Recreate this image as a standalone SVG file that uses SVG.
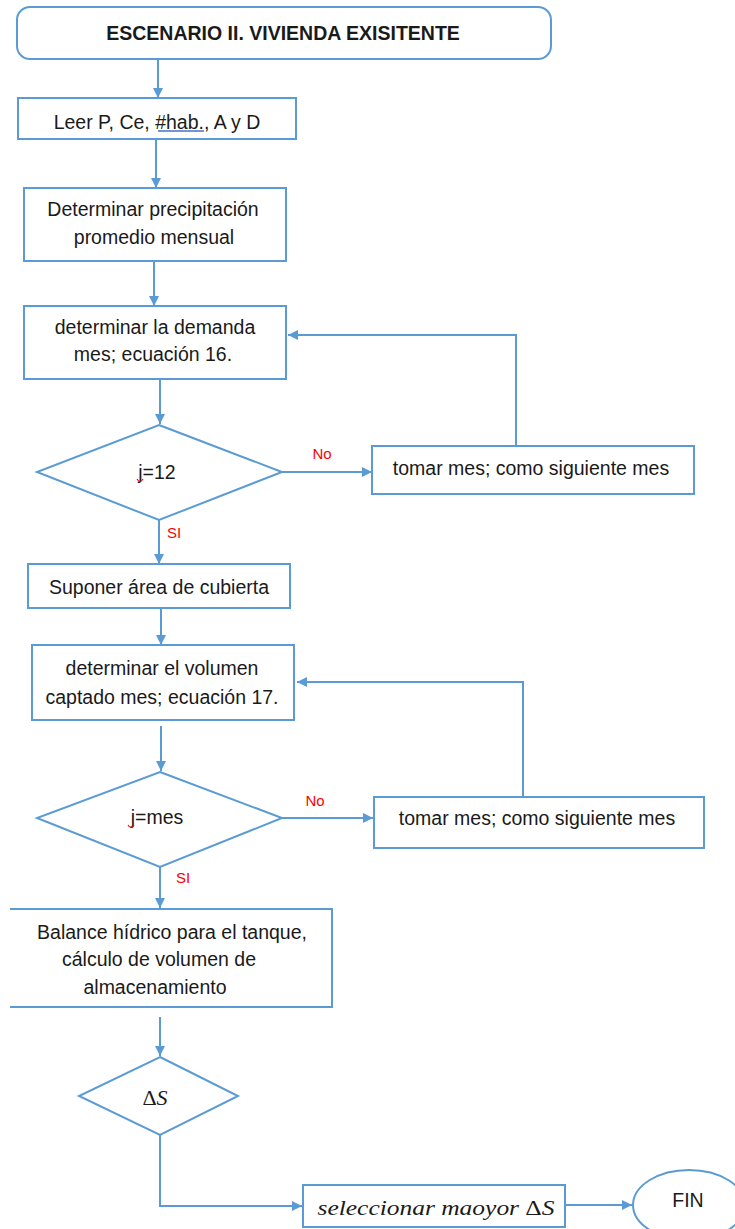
<svg xmlns="http://www.w3.org/2000/svg" width="735" height="1229" viewBox="0 0 735 1229">
<defs>
<marker id="ah" viewBox="0 0 10 10" refX="10" refY="5" markerWidth="10" markerHeight="10" markerUnits="userSpaceOnUse" orient="auto">
<path d="M0,0 L10,5 L0,10 z" fill="#5B9BD5"/>
</marker>
<style>
.s{fill:#fff;stroke:#5B9BD5;stroke-width:2}
.c{fill:none;stroke:#5B9BD5;stroke-width:2}
.t{font-family:"Liberation Sans",Arial,sans-serif;font-size:19.5px;fill:#1a1a1a;text-anchor:middle;dominant-baseline:central}
.b{font-weight:bold}
.r{font-family:"Liberation Sans",Arial,sans-serif;font-size:15px;fill:#FF0000;text-anchor:middle;dominant-baseline:central}
.m{font-family:"Liberation Serif","Times New Roman",serif;font-style:italic;font-size:22px;fill:#1a1a1a;text-anchor:middle;dominant-baseline:central}
</style>
</defs>
<rect width="735" height="1229" fill="#fff"/>
<g id="connectors">
<line class="c" x1="158" y1="59" x2="158" y2="98" marker-end="url(#ah)"/>
<line class="c" x1="156" y1="139" x2="156" y2="188" marker-end="url(#ah)"/>
<line class="c" x1="154" y1="261" x2="154" y2="306" marker-end="url(#ah)"/>
<line class="c" x1="160" y1="379" x2="160" y2="424" marker-end="url(#ah)"/>
<line class="c" x1="282" y1="472" x2="372" y2="472" marker-end="url(#ah)"/>
<polyline class="c" points="516,446 516,335 288,335" marker-end="url(#ah)"/>
<line class="c" x1="159" y1="520" x2="159" y2="564" marker-end="url(#ah)"/>
<line class="c" x1="161" y1="608" x2="161" y2="645" marker-end="url(#ah)"/>
<line class="c" x1="161" y1="726" x2="161" y2="771" marker-end="url(#ah)"/>
<line class="c" x1="282" y1="818" x2="373" y2="818" marker-end="url(#ah)"/>
<polyline class="c" points="523,797 523,682 297,682" marker-end="url(#ah)"/>
<line class="c" x1="160" y1="867" x2="160" y2="908" marker-end="url(#ah)"/>
<line class="c" x1="160" y1="1017" x2="160" y2="1056" marker-end="url(#ah)"/>
<polyline class="c" points="160,1135 160,1206 302,1206" marker-end="url(#ah)"/>
<line class="c" x1="565" y1="1205" x2="632" y2="1205" marker-end="url(#ah)"/>
<text class="r" x="322" y="453">No</text>
<text class="r" x="174" y="532">SI</text>
<text class="r" x="315" y="800">No</text>
<text class="r" x="183" y="877">SI</text>
</g>
<g id="n-title">
<rect class="s" x="17" y="7" width="534" height="52" rx="13"/>
<text class="t b" x="283" y="33">ESCENARIO II. VIVIENDA EXISITENTE</text>
</g>
<g id="n-leer">
<rect class="s" x="18" y="98" width="278" height="41"/>
<text class="t" x="157" y="122">Leer P, Ce, #hab., A y D</text>
<line x1="158" y1="131" x2="204" y2="131" stroke="#4472C4" stroke-width="1.5"/>
</g>
<g id="n-precip">
<rect class="s" x="24" y="188" width="262" height="73"/>
<text class="t" x="153" y="209">Determinar precipitación</text>
<text class="t" x="154" y="237">promedio mensual</text>
</g>
<g id="n-demanda">
<rect class="s" x="24" y="306" width="262" height="73"/>
<text class="t" x="155" y="327">determinar la demanda</text>
<text class="t" x="153" y="354">mes; ecuación 16.</text>
</g>
<g id="n-j12">
<polygon class="s" points="159,425 282,472 159,520 37,472"/>
<text class="t" x="157" y="472">j=12</text>
<path d="M137,479 q3,5 6,0" fill="none" stroke="#FF0000" stroke-width="1.2"/>
</g>
<g id="n-tomar1">
<rect class="s" x="372" y="446" width="322" height="48"/>
<text class="t" x="531" y="468">tomar mes; como siguiente mes</text>
</g>
<g id="n-suponer">
<rect class="s" x="28" y="564" width="262" height="44"/>
<text class="t" x="159" y="587">Suponer área de cubierta</text>
</g>
<g id="n-volumen">
<rect class="s" x="32" y="645" width="262" height="75"/>
<text class="t" x="162" y="668">determinar el volumen</text>
<text class="t" x="162" y="697">captado mes; ecuación 17.</text>
</g>
<g id="n-jmes">
<polygon class="s" points="160,772 282,818 160,867 37,818"/>
<text class="t" x="157" y="817">j=mes</text>
<path d="M128,825 q3,5 6,0" fill="none" stroke="#FF0000" stroke-width="1.2"/>
</g>
<g id="n-tomar2">
<rect class="s" x="374" y="797" width="330" height="51"/>
<text class="t" x="537" y="818">tomar mes; como siguiente mes</text>
</g>
<g id="n-balance">
<path class="c" d="M10,909 H332 V1007 H10" style="fill:#fff"/>
<text class="t" x="172" y="932">Balance hídrico para el tanque,</text>
<text class="t" x="159" y="959">cálculo de volumen de</text>
<text class="t" x="155" y="987">almacenamiento</text>
</g>
<g id="n-deltaS">
<polygon class="s" points="160,1057 238,1096 160,1135 79,1096"/>
<text class="m" x="155" y="1097"><tspan font-style="normal">Δ</tspan>S</text>
</g>
<g id="n-seleccionar">
<rect class="s" x="303" y="1185" width="262" height="42"/>
<text class="m" x="436" y="1207" textLength="237" lengthAdjust="spacingAndGlyphs">seleccionar maoyor <tspan font-style="normal">Δ</tspan>S</text>
</g>
<g id="n-fin">
<ellipse class="s" cx="689" cy="1205" rx="56" ry="35"/>
<text class="t" x="688" y="1200">FIN</text>
</g>
</svg>
